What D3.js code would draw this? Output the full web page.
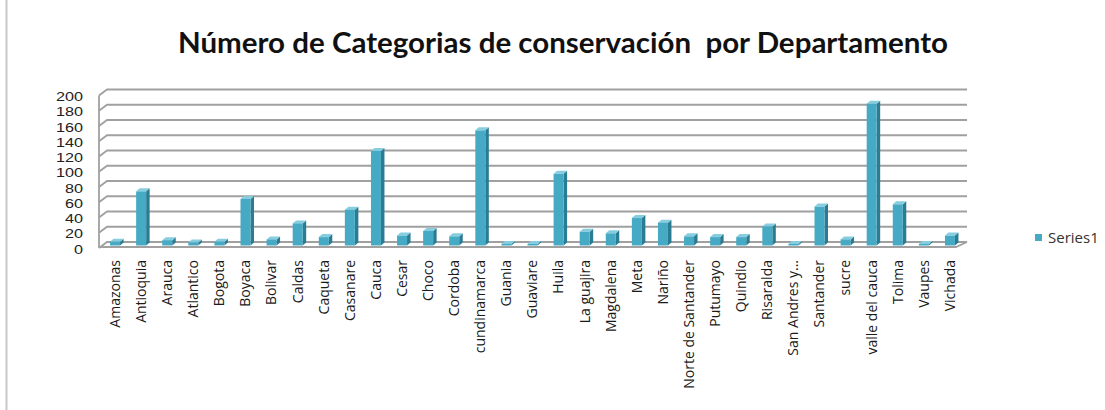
<!DOCTYPE html>
<html><head><meta charset="utf-8">
<script src="https://cdn.jsdelivr.net/npm/d3@7"></script>
<style>body{margin:0;background:#fff} svg{display:block}</style>
</head><body><svg id="c" width="1105" height="410"></svg>
<script>
const categories = ["Amazonas","Antioquia","Arauca","Atlantico","Bogota","Boyaca","Bolivar","Caldas","Caqueta","Casanare","Cauca","Cesar","Choco","Cordoba","cundinamarca","Guania","Guaviare","Huila","La guajira","Magdalena","Meta","Nariño","Norte de Santander","Putumayo","Quindio","Risaralda","San Andres y...","Santander","sucre","valle del cauca","Tolima","Vaupes","Vichada"];
const values = [5,71,7,4,5,61,8,29,11,47,124,13,19,12,151,2,2,94,18,16,36,30,12,11,11,25,2,51,8,186,54,2,13];
const yTicks = [0,20,40,60,80,100,120,140,160,180,200];
const seriesName = "Series1";
const title = "Número de Categorias de conservación  por Departamento";

const svg = d3.select("#c");
const grid = "#a0a0a0";

// outer frame (left edge visible)
svg.append("line").attr("x1",6.5).attr("x2",6.5).attr("y1",0).attr("y2",410)
  .attr("stroke","#c8c8c8").attr("stroke-width",2);

// title
svg.append("text").attr("x",563).attr("y",53).attr("text-anchor","middle")
  .attr("font-family","Lato, 'Open Sans', sans-serif").attr("font-weight","bold")
  .attr("font-size",28).attr("fill","#111").style("white-space","pre")
  .attr("textLength",770).attr("lengthAdjust","spacingAndGlyphs").text(title);

const y = d3.scaleLinear().domain([0,200]).range([242,89.5]);
const x = d3.scaleBand().domain(categories).range([102,963]);

const FX = -8, FY = 6;      // wall front offset
const BACKL = 107, BACKR = 967;

// gridlines with side-wall diagonals
svg.append("g").selectAll("path").data(yTicks).join("path")
  .attr("d", t => `M${BACKL+FX},${y(t)+FY}L${BACKL},${y(t)}L${BACKR},${y(t)}`)
  .attr("fill","none").attr("stroke",grid).attr("stroke-width",1.8);
// left wall front edge
svg.append("line").attr("x1",BACKL+FX).attr("x2",BACKL+FX)
  .attr("y1",y(200)+FY).attr("y2",y(0)+FY).attr("stroke",grid).attr("stroke-width",1.8);
// floor front edge
svg.append("path").attr("d",`M${BACKL+FX},${y(0)+FY-1}L${BACKR-11},${y(0)+FY-1}L${BACKR},${y(0)}`)
  .attr("fill","none").attr("stroke",grid).attr("stroke-width",1.8);

// y tick labels
svg.append("g").selectAll("text").data(yTicks).join("text")
  .attr("x",83).attr("y",t => y(t)+7).attr("dy","0.35em").attr("text-anchor","end")
  .attr("font-family","'Liberation Sans', sans-serif").attr("font-size",13).attr("fill","#222")
  .attr("textLength", d => String(d).length*9).attr("lengthAdjust","spacingAndGlyphs")
  .text(d => d);

// bars (pseudo 3D)
const BW = 10, DX = 3.5, DY = 3, PY = 3.5;
const bars = svg.append("g").selectAll("g").data(categories).join("g");
const cx = c => x(c) + x.bandwidth()/2;
const base = y(0) + PY;
bars.each(function(c,i){
  const g = d3.select(this);
  const v = values[i];
  const l = cx(c) - BW/2, r = cx(c) + BW/2;
  const top = y(v) + PY;
  g.append("polygon").attr("points",`${r},${top} ${r+DX},${top-DY} ${r+DX},${base-DY} ${r},${base}`)
    .attr("fill","#2a7c93");
  g.append("polygon").attr("points",`${l},${top} ${l+DX},${top-DY} ${r+DX},${top-DY} ${r},${top}`)
    .attr("fill","#86cde0");
  g.append("rect").attr("x",l).attr("y",top).attr("width",BW).attr("height",Math.max(0,base-top))
    .attr("fill","#46aac5");
});

// x labels
svg.append("g").selectAll("text").data(categories).join("text")
  .attr("transform", c => `translate(${cx(c)},260) rotate(-90)`)
  .attr("dy","0.35em").attr("text-anchor","end")
  .attr("font-family","'Open Sans', sans-serif").attr("font-size",14).attr("fill","#1a1a1a")
  .text(d => d);

// legend
svg.append("rect").attr("x",1035).attr("y",234).attr("width",7).attr("height",7).attr("fill","#46aac5");
svg.append("text").attr("x",1048).attr("y",238).attr("dy","0.35em")
  .attr("font-family","'Open Sans', sans-serif").attr("font-size",15).attr("fill","#333")
  .text(seriesName);
</script></body></html>
